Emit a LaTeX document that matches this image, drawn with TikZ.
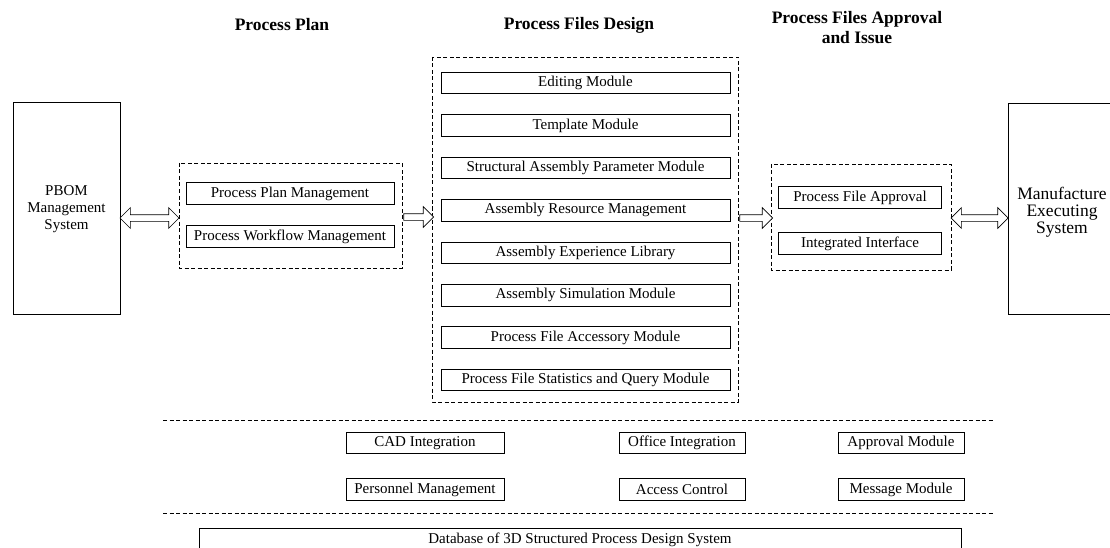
\documentclass[tikz,border=0pt]{standalone}
\usepackage{fontspec}
\setmainfont{Liberation Serif}
\usetikzlibrary{shapes.arrows,calc}
\begin{document}
\begin{tikzpicture}[x=1pt,y=-1pt,
  mbox/.style={draw,line width=0.8pt,minimum height=21.5pt,inner sep=0pt,font=\fontsize{15}{17}\selectfont},
  dbox/.style={draw,line width=0.8pt,dash pattern=on 4pt off 2.5pt},
  dline/.style={line width=0.8pt,dash pattern=on 4pt off 2.5pt},
  bigbox/.style={draw,line width=0.8pt},
  ttl/.style={font=\fontsize{17.5}{20}\selectfont\bfseries,align=center},
  darrow/.style={double arrow,draw,fill=white,line width=0.7pt,inner sep=3pt,double arrow head extend=7pt,double arrow tip angle=90,anchor=center},
  sarrow/.style={single arrow,draw,fill=white,line width=0.7pt,inner sep=3pt,single arrow head extend=7pt,single arrow tip angle=90,anchor=center}
]
\useasboundingbox (0,0) rectangle (1110,548);
\begin{scope}
\clip (0,0) rectangle (1110,548);
% titles
\node[ttl] (t1) at (282,25) {Process Plan};
\node[ttl] (t2) at (579,25) {Process Files Design};
\node[ttl] (t3) at (857,28) {Process Files Approval\\and Issue};
% side systems
\draw[bigbox] (13,102) rectangle (120,314);
\node[align=center,font=\fontsize{15}{17}\selectfont] (pbom) at (66.5,209) {PBOM\\Management\\System};
\coordinate (pbomE) at (120,218);
\draw[bigbox] (1008,103) rectangle (1125,314);
\node[align=center,font=\fontsize{17.5}{17}\selectfont] (mes) at (1062,212) {Manufacture\\Executing\\System};
\coordinate (mesW) at (1008,218);
% process plan
\draw[dbox] (179,163) rectangle (402,268);
\coordinate (planW) at (179,218);
\coordinate (planE) at (402,217);
\node[mbox,minimum width=208pt] (pp1) at (290,193.5) {Process Plan Management};
\node[mbox,minimum width=208pt] (pp2) at (290,236.5) {Process Workflow Management};
% design
\draw[dbox] (432,57) rectangle (738,402);
\coordinate (desW) at (432,217);
\coordinate (desE) at (738,218);
\foreach \t [count=\i from 0] in {Editing Module,Template Module,Structural Assembly Parameter Module,Assembly Resource Management,Assembly Experience Library,Assembly Simulation Module,Process File Accessory Module,Process File Statistics and Query Module}
  \node[mbox,minimum width=289pt] (d\i) at (585.5,{83+\i*42.43}) {\t};
% approval
\draw[dbox] (771,164) rectangle (951,270);
\coordinate (apW) at (771,218);
\coordinate (apE) at (951,218);
\node[mbox,minimum width=163pt] (ap1) at (860,197.5) {Process File Approval};
\node[mbox,minimum width=163pt] (ap2) at (860,243.5) {Integrated Interface};
% arrows
\node[darrow,minimum height=59pt] (a1) at ($(pbomE)!0.5!(planW)$) {};
\node[sarrow,minimum height=30pt] (a2) at ($(planE)!0.5!(desW)$) {};
\node[sarrow,minimum height=33pt] (a3) at ($(desE)!0.5!(apW)$) {};
\node[darrow,minimum height=57pt] (a4) at ($(apE)!0.5!(mesW)$) {};
% support layer
\draw[dline] (163,420) -- (993,420);
\draw[dline] (163,513) -- (993,513);
\node[mbox,minimum width=158pt] (b1) at (425,443) {CAD Integration};
\node[mbox,minimum width=158pt] (b2) at (425,489.5) {Personnel Management};
\node[mbox,minimum width=126pt] (b3) at (682,443) {Office Integration};
\node[mbox,minimum width=126pt] (b4) at (682,489.5) {Access Control};
\node[mbox,minimum width=126pt] (b5) at (901,443) {Approval Module};
\node[mbox,minimum width=126pt] (b6) at (901,489.5) {Message Module};
% database
\draw[bigbox] (199,565) -- (199,528) -- (961,528) -- (961,565);
\node[font=\fontsize{15}{17}\selectfont] (db) at (580,540) {Database of 3D Structured Process Design System};
\end{scope}
\end{tikzpicture}
\end{document}
